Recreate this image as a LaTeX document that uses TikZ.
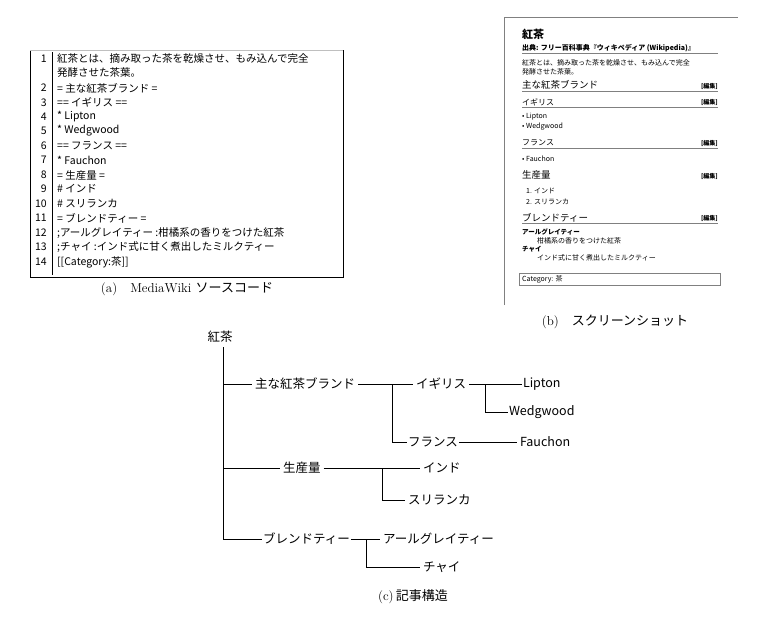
\documentclass[tikz,border=0pt]{standalone}
\usepackage{fontspec}
\newfontfamily\jp{Noto Sans CJK JP}
\begin{document}
\begin{tikzpicture}[x=1pt,y=-1pt,
  tn/.style={font=\jp\fontsize{12.5}{13}\selectfont,inner sep=0pt,outer sep=3pt,anchor=west},
  src/.style={font=\jp\fontsize{10.5}{12}\selectfont,inner sep=0pt,anchor=west},
  num/.style={font=\jp\fontsize{10.5}{12}\selectfont,inner sep=0pt,anchor=east},
  captxt/.style={font=\fontsize{13}{14}\selectfont,inner sep=0pt},
  ss/.style={font=\jp\fontsize{7}{8}\selectfont,inner sep=0pt,anchor=west},
  sh/.style={font=\jp\fontsize{9.5}{10}\selectfont,inner sep=0pt,anchor=west},
  ed/.style={font=\jp\bfseries\fontsize{6}{7}\selectfont,inner sep=0pt,anchor=east},
  ul/.style={draw=gray,line width=0.6pt},
  ln/.style={line width=0.7pt}]
\useasboundingbox (0,0) rectangle (769,625);
% (a) source
\draw[line width=0.7pt] (30,50) -- (30,277) -- (343,277) -- (343,50);
\draw[gray!50,line width=0.4pt] (30,50) -- (343,50);
\draw[line width=0.6pt] (52,52) -- (52,275);
\foreach \n/\y in {1/59,2/88,3/102.5,4/117,5/131,6/146,7/160,8/175,9/189,10/204,11/218,12/233,13/247,14/262}
  \node[num] (n\n) at (47,\y) {\n};
\node[src] (s1) at (57,59) {紅茶とは、摘み取った茶を乾燥させ、もみ込んで完全};
\node[src] (s1b) at (57,73) {発酵させた茶葉。};
\node[src] (s2) at (57,88) {= 主な紅茶ブランド =};
\node[src] (s3) at (57,102.5) {== イギリス ==};
\node[src] (s4) at (57,117) {* Lipton};
\node[src] (s5) at (57,131) {* Wedgwood};
\node[src] (s6) at (57,146) {== フランス ==};
\node[src] (s7) at (57,160) {* Fauchon};
\node[src] (s8) at (57,175) {= 生産量 =};
\node[src] (s9) at (57,189) {\# インド};
\node[src] (s10) at (57,204) {\# スリランカ};
\node[src] (s11) at (57,218) {= ブレンドティー =};
\node[src] (s12) at (57,233) {;アールグレイティー :柑橘系の香りをつけた紅茶};
\node[src] (s13) at (57,247) {;チャイ :インド式に甘く煮出したミルクティー};
\node[src] (s14) at (57,262) {[[Category:茶]]};
\node[captxt] (capa) at (187,289) {(a)\quad MediaWiki {\jp ソースコード}};
% (b) screenshot
\draw[gray,line width=0.7pt] (504,305) -- (504,17) -- (738,17);
\node[font=\jp\bfseries\fontsize{11}{12}\selectfont,inner sep=0pt,anchor=west] (b0) at (522,34) {紅茶};
\node[ss,font=\jp\bfseries\fontsize{7}{8}\selectfont] (b1) at (522,48) {出典: フリー百科事典『ウィキペディア (Wikipedia)』};
\draw[ul] (522,53) -- (718,53);
\node[ss] (b2) at (522,63) {紅茶とは、摘み取った茶を乾燥させ、もみ込んで完全};
\node[ss] (b3) at (522,72) {発酵させた茶葉。};
\node[sh] (b4) at (522,85) {主な紅茶ブランド}; \node[ed] (e4) at (718,86) {[編集]};
\draw[ul] (522,91) -- (718,91);
\node[sh,font=\jp\fontsize{8}{9}\selectfont] (b5) at (522,102) {イギリス}; \node[ed] (e5) at (718,102) {[編集]};
\draw[ul] (522,107) -- (718,107);
\node[ss] (b6) at (522,117) {• Lipton};
\node[ss] (b7) at (522,127) {• Wedgwood};
\node[sh,font=\jp\fontsize{8}{9}\selectfont] (b8) at (522,143) {フランス}; \node[ed] (e8) at (718,143) {[編集]};
\draw[ul] (522,148) -- (718,148);
\node[ss] (b9) at (522,159) {• Fauchon};
\node[sh] (b10) at (522,175) {生産量}; \node[ed] (e10) at (718,176) {[編集]};
\node[ss] (b11) at (526,191) {1. インド};
\node[ss] (b12) at (526,202) {2. スリランカ};
\node[sh] (b13) at (522,218) {ブレンドティー}; \node[ed] (e13) at (718,218) {[編集]};
\draw[ul] (522,223) -- (718,223);
\node[ss,font=\jp\bfseries\fontsize{6.5}{7}\selectfont] (b14) at (522,232) {アールグレイティー};
\node[ss] (b15) at (537,241) {柑橘系の香りをつけた紅茶};
\node[ss,font=\jp\bfseries\fontsize{6.5}{7}\selectfont] (b16) at (522,249) {チャイ};
\node[ss] (b17) at (537,258) {インド式に甘く煮出したミルクティー};
\node[draw=gray,line width=0.6pt,minimum width=201pt,minimum height=12pt,inner sep=0pt,anchor=west] (b18) at (519,279) {};
\node[ss] (b18t) at (522,279) {Category: 茶};
\node[captxt] (capb) at (615,322) {(b)\quad {\jp スクリーンショット}};
% (c) tree
\node[tn,anchor=center,outer sep=0pt] (root) at (220,337) {紅茶};
\node[tn] (brand) at (252,384) {主な紅茶ブランド};
\node[tn] (uk) at (413,384) {イギリス};
\node[tn,outer sep=1pt] (lipton) at (522,384) {Lipton};
\node[tn,outer sep=1pt] (wedg) at (508,412) {Wedgwood};
\node[tn,outer sep=1pt] (fr) at (407,442) {フランス};
\node[tn] (fauchon) at (517,442) {Fauchon};
\node[tn] (prod) at (280,468) {生産量};
\node[tn] (india) at (420,468) {インド};
\node[tn] (sri) at (405,500) {スリランカ};
\node[tn,outer sep=1pt] (blend) at (262,539) {ブレンドティー};
\node[tn] (earl) at (380,539) {アールグレイティー};
\node[tn] (chai) at (420,567) {チャイ};
\coordinate (t0) at (223,347);
\draw[ln] (t0) -- (t0 |- blend.west) -- (blend.west);
\draw[ln] (t0 |- brand.west) -- (brand.west);
\draw[ln] (t0 |- prod.west) -- (prod.west);
\draw[ln] (brand.east) -- (uk.west);
\coordinate (f1) at (392,384);
\draw[ln] (f1) |- (fr.west);
\draw[ln] (uk.east) -- (lipton.west);
\coordinate (f2) at (485,384);
\draw[ln] (f2) |- (wedg.west);
\draw[ln] (fr.east) -- (fauchon.west);
\draw[ln] (prod.east) -- (india.west);
\coordinate (f3) at (382,468);
\draw[ln] (f3) |- (sri.west);
\draw[ln] (blend.east) -- (earl.west);
\coordinate (f4) at (366,539);
\draw[ln] (f4) |- (chai.west);
\node[captxt] (capc) at (413,597) {(c)\,{\jp 記事構造}};
\end{tikzpicture}
\end{document}
